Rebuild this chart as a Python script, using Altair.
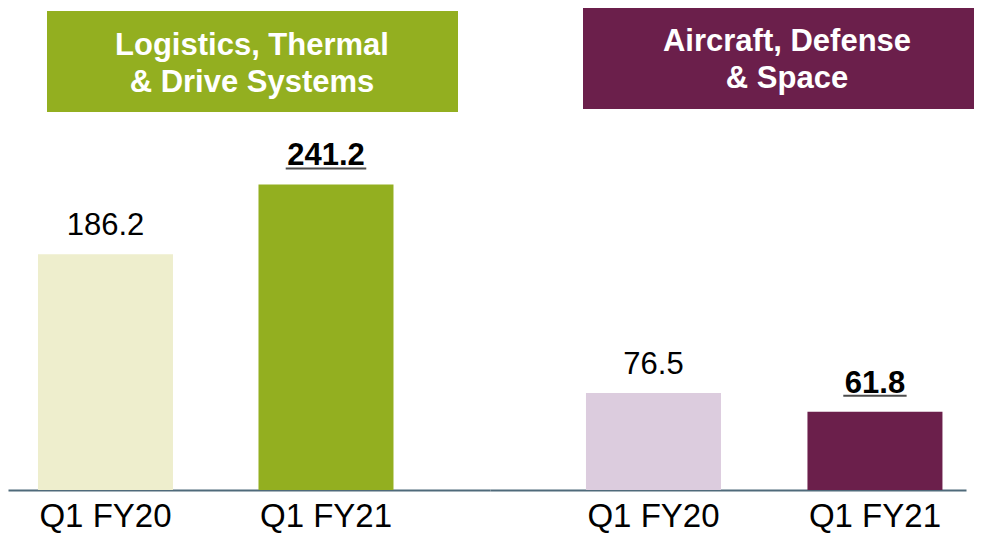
import altair as alt
import pandas as pd

# ---- data ----
periods = ["Q1 FY20", "Q1 FY21"]
header_ltd = ["Logistics, Thermal", "& Drive Systems"]
header_ads = ["Aircraft, Defense", "& Space"]
values_ltd = [186.2, 241.2]
values_ads = [76.5, 61.8]
labels_ltd = ["186.2", "241.2"]
labels_ads = ["76.5", "61.8"]

FONT = "Liberation Sans"
H = 482
YMAX = 380.5
VAL_SIZE = 31


def adv(s):
    # Arial advance widths (em) for digits and period
    return sum(0.278 if c == "." else 0.556 for c in s)


def panel(values, labels, light, dark, width, scale_opts, header, box, text_x):
    df = pd.DataFrame({"period": periods, "value": values, "label": labels})
    df["ulw"] = [adv(s) * VAL_SIZE + 3 for s in labels]

    x = alt.X(
        "period:N",
        sort=periods,
        scale=alt.Scale(**scale_opts),
        axis=alt.Axis(
            title=None,
            labelAngle=0,
            ticks=False,
            tickSize=0,
            domain=True,
            domainColor="#4F6A7A",
            domainWidth=2,
            labelFont=FONT,
            labelFontSize=33,
            labelColor="#000000",
            labelBaseline="alphabetic",
            labelPadding=36,
            grid=False,
        ),
    )
    y = alt.Y("value:Q", scale=alt.Scale(domain=[0, YMAX]), axis=None)
    base = alt.Chart(df).encode(x=x, y=y)

    bars = base.mark_bar().encode(
        color=alt.Color(
            "period:N",
            scale=alt.Scale(domain=periods, range=[light, dark]),
            legend=None,
        )
    )
    t_old = (
        base.transform_filter(alt.datum.period == periods[0])
        .mark_text(font=FONT, fontSize=VAL_SIZE, dy=-19, baseline="alphabetic", color="#000000")
        .encode(text="label:N")
    )
    t_new = (
        base.transform_filter(alt.datum.period == periods[1])
        .mark_text(font=FONT, fontSize=VAL_SIZE, fontWeight="bold", dy=-19,
                   baseline="alphabetic", color="#000000")
        .encode(text="label:N")
    )
    underline = (
        base.transform_filter(alt.datum.period == periods[1])
        .mark_tick(thickness=2, color="#000000", yOffset=-16)
        .encode(size=alt.Size("ulw:Q", scale=None))
    )

    hdr_df = pd.DataFrame({"g": [" ".join(header)]})
    hdr_rect = alt.Chart(hdr_df).mark_rect(color=dark).encode(
        x=alt.value(box[0]), x2=alt.value(box[1]),
        y=alt.value(box[2]), y2=alt.value(box[3]),
    )
    hdr_text = alt.Chart(hdr_df).mark_text(
        text=header, font=FONT, fontSize=31, fontWeight="bold", color="#FFFFFF",
        align="center", baseline="alphabetic", lineHeight=37,
    ).encode(x=alt.value(text_x), y=alt.value(box[4]))

    return alt.layer(bars, t_old, t_new, underline, hdr_rect, hdr_text).properties(
        width=width, height=H
    )


p1 = panel(
    values_ltd, labels_ltd, "#EEEECD", "#93AF20", 482,
    dict(paddingInner=0.3878, paddingOuter=0.2868, align=0.237),
    header_ltd, (39, 450, 3, 104, 47), 244,
)
p2 = panel(
    values_ads, labels_ads, "#DCCCDE", "#6B1F4B", 476,
    dict(paddingInner=0.3905, paddingOuter=0.2698, align=0.803),
    header_ads, (93, 484, 0, 101, 43), 297,
)

chart = (
    alt.hconcat(p1, p2, spacing=0)
    .resolve_scale(color="independent", x="independent", y="independent")
    .properties(padding=0, background="#FFFFFF")
    .configure_view(strokeWidth=0)
)

chart.save("out.html", embed_options={"renderer": "svg", "actions": False})
